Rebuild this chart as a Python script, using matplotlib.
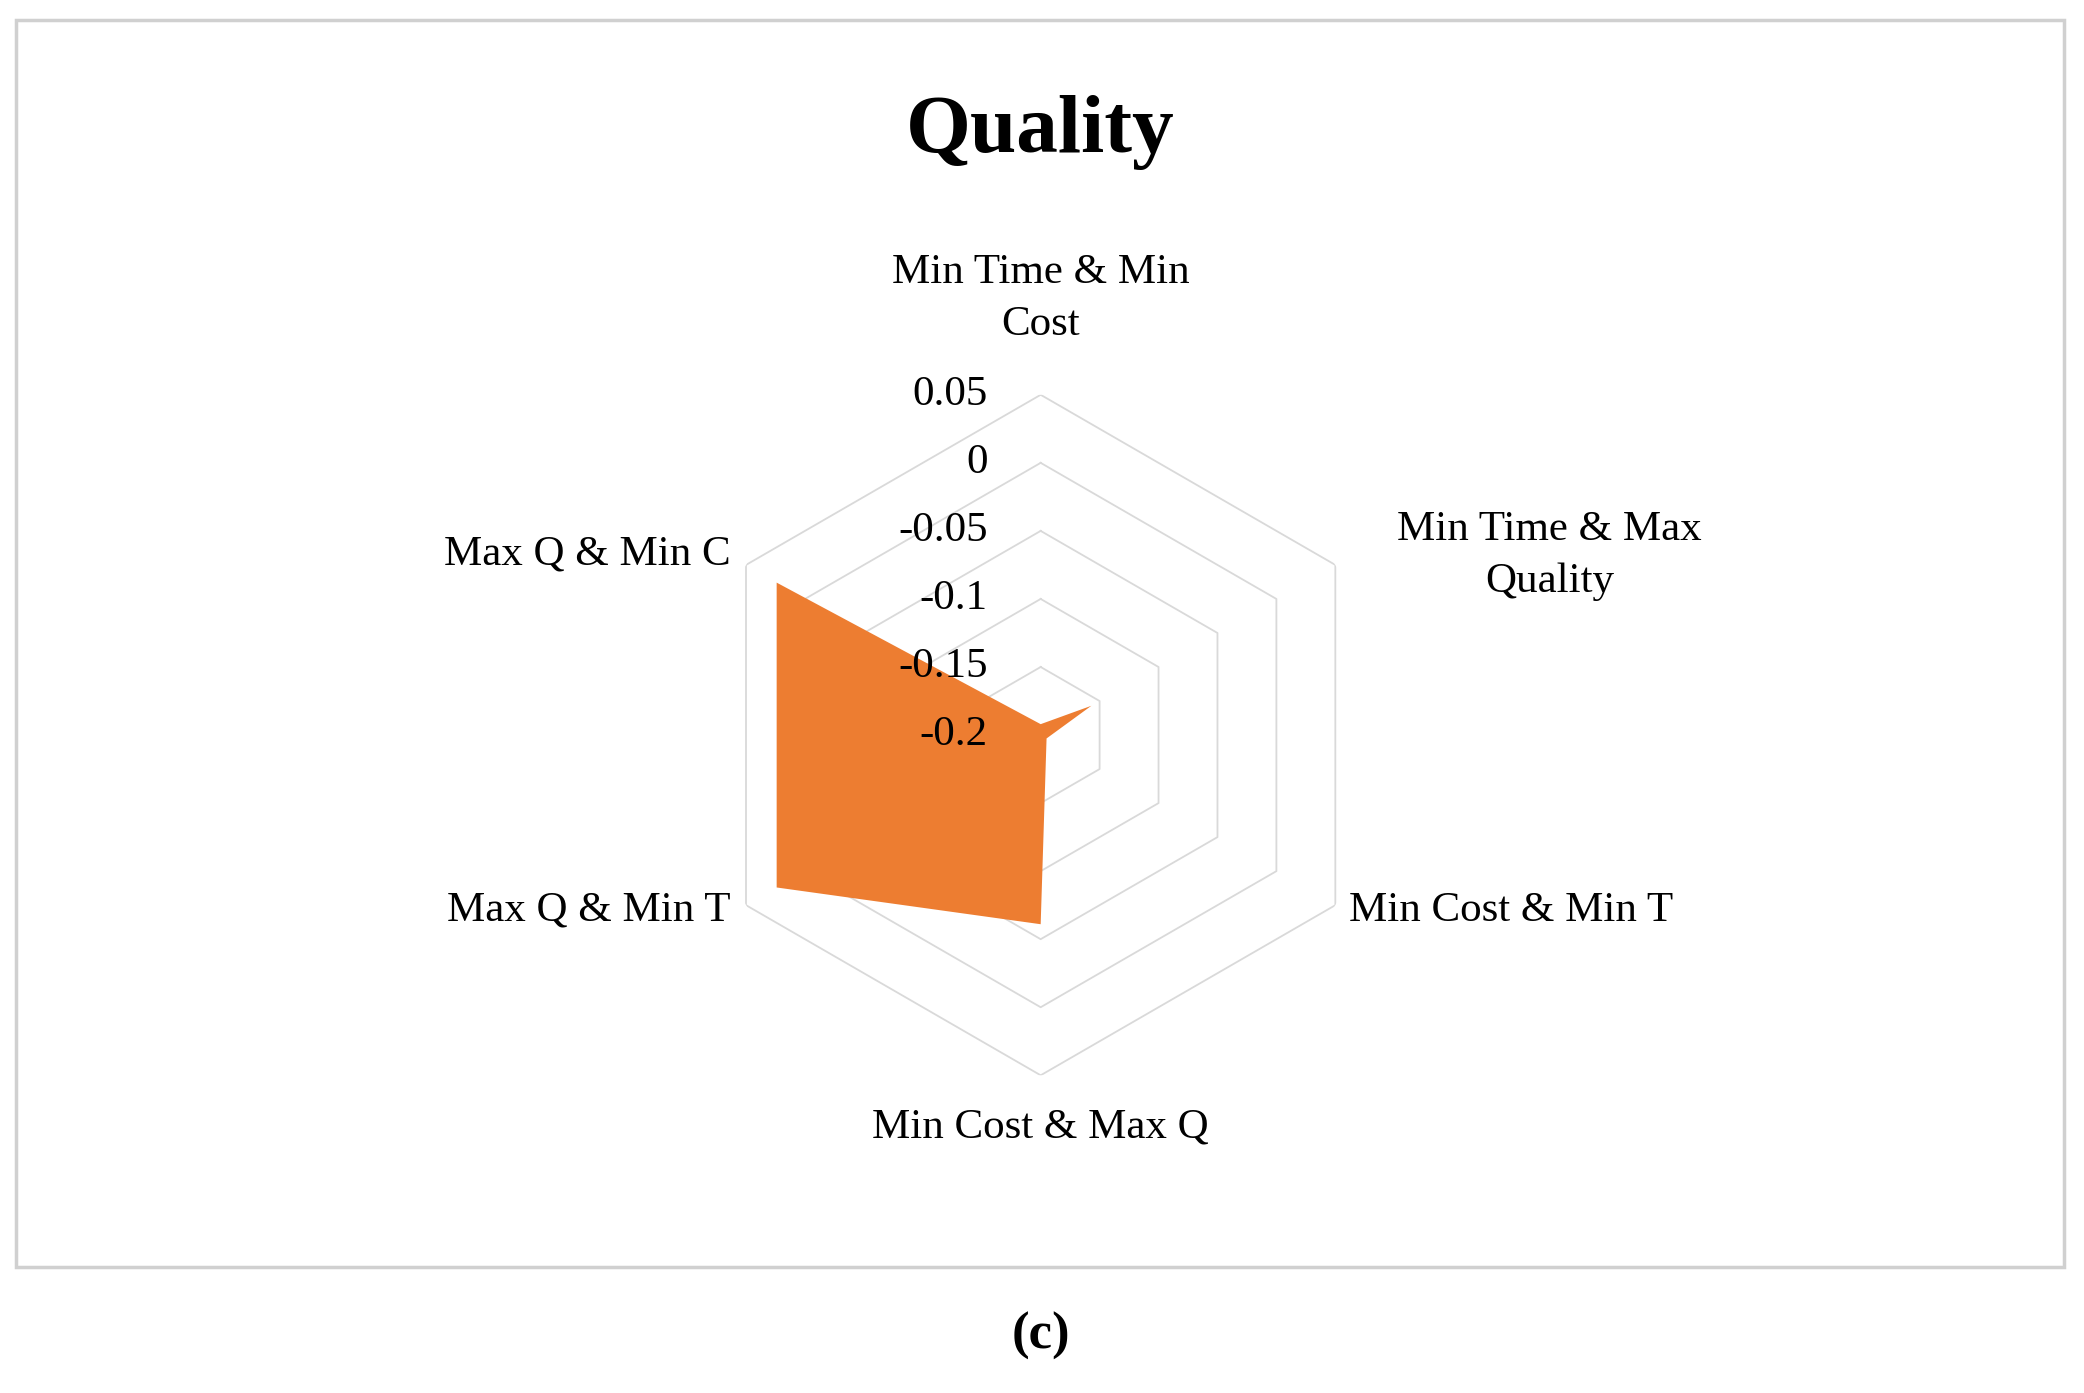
import numpy as np
import matplotlib
matplotlib.use("Agg")
import matplotlib.pyplot as plt
from matplotlib.patches import Rectangle

categories = ["Min Time & Min\nCost", "Min Time & Max\nQuality", "Min Cost & Min T",
              "Min Cost & Max Q", "Max Q & Min T", "Max Q & Min C"]
values = [-0.192, -0.157, -0.195, -0.061, 0.024, 0.024]
ticks = [-0.2, -0.15, -0.1, -0.05, 0, 0.05]
tick_labels = ["-0.2", "-0.15", "-0.1", "-0.05", "0", "0.05"]

W, H = 1568, 1048
def fx(x): return x / W
def fy(y): return 1 - y / H

plt.rcParams['font.family'] = ['Liberation Serif', 'DejaVu Serif']
fig = plt.figure(figsize=(20.84, 13.93), dpi=100)
fig.patches.append(Rectangle((fx(12), fy(953)), fx(1553) - fx(12), fy(15) - fy(953),
                             transform=fig.transFigure, fill=False, ec='#d0d0d0', lw=2.5))

cx, cy, R = 783, 553, 256
ax = fig.add_axes([fx(cx - R), fy(cy + R), fx(2 * R), fy(cy - R) - fy(cy + R)], projection='polar')
ax.set_theta_offset(np.pi / 2)
ax.set_theta_direction(-1)
ax.set_ylim(-0.2, 0.05)
ax.axis('off')
n = len(categories)
ang = np.linspace(0, 2 * np.pi, n, endpoint=False)
for t in ticks[1:]:
    ax.plot(np.append(ang, ang[0]), [t] * (n + 1), color='#d9d9d9', lw=1.3)
ax.fill(np.append(ang, ang[0]), values + [values[0]], color='#ED7D31', lw=0, zorder=3)

fs = 31
fig.text(fx(783), fy(225), categories[0], ha='center', va='center', fontsize=fs, linespacing=1.45)
fig.text(fx(1166), fy(418), categories[1], ha='center', va='center', fontsize=fs, linespacing=1.45)
fig.text(fx(1015), fy(685), categories[2], ha='left', va='center', fontsize=fs)
fig.text(fx(783), fy(848), categories[3], ha='center', va='center', fontsize=fs)
fig.text(fx(550), fy(685), categories[4], ha='right', va='center', fontsize=fs)
fig.text(fx(550), fy(417), categories[5], ha='right', va='center', fontsize=fs)
for t, lab in zip(ticks, tick_labels):
    y = cy - (t + 0.2) / 0.25 * R
    fig.text(fx(743), fy(y), lab, ha='right', va='center', fontsize=fs, zorder=5)

fig.text(fx(783), fy(100), "Quality", ha='center', va='center', fontsize=60, fontweight='bold')
fig.text(fx(783), fy(1005), "(c)", ha='center', va='center', fontsize=38, fontweight='bold')
fig.savefig("out.png", dpi=100)
